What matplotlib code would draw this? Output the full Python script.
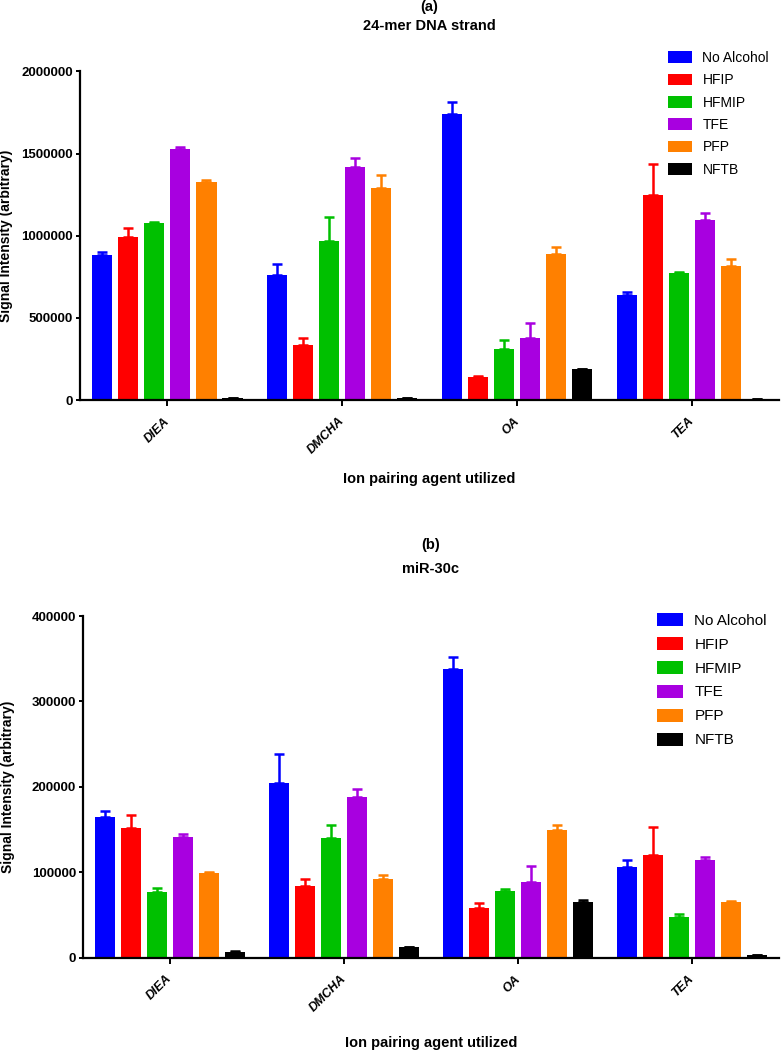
import matplotlib
matplotlib.use('Agg')
import matplotlib.pyplot as plt
import numpy as np

plt.rcParams['font.family'] = ['Liberation Sans', 'DejaVu Sans']

agents = ['DIEA', 'DMCHA', 'OA', 'TEA']
alcohols = ['No Alcohol', 'HFIP', 'HFMIP', 'TFE', 'PFP', 'NFTB']
colors = ['#0000ff', '#ff0000', '#00c000', '#a800e0', '#ff8000', '#000000']

# (a) 24-mer DNA strand: mean and upper error per alcohol, across agents
dna_mean = [
    [881000, 760000, 1743000, 638000],
    [993000, 334000, 142000, 1246000],
    [1078000, 967000, 308000, 774000],
    [1526000, 1418000, 375000, 1094000],
    [1327000, 1293000, 888000, 817000],
    [10000, 10000, 188000, 5000],
]
dna_err = [
    [20000, 65000, 71000, 19000],
    [51000, 41000, 3000, 193000],
    [6000, 147000, 57000, 4000],
    [14000, 57000, 95000, 45000],
    [15000, 75000, 44000, 42000],
    [1000, 1000, 3000, 1000],
]
dna_ticks = [0, 500000, 1000000, 1500000, 2000000]

# (b) miR-30c
mir_mean = [
    [165000, 204000, 338000, 106500],
    [151500, 84000, 58500, 120000],
    [77300, 140500, 77700, 47600],
    [141300, 187800, 89000, 114000],
    [99500, 92500, 150000, 65200],
    [7000, 12000, 65600, 3000],
]
mir_err = [
    [6700, 34500, 14000, 8000],
    [15000, 8000, 5000, 32500],
    [4700, 14500, 3000, 3600],
    [3500, 9700, 18300, 4000],
    [1000, 4000, 5300, 800],
    [500, 1000, 1400, 300],
]
mir_ticks = [0, 100000, 200000, 300000, 400000]

fig = plt.figure(figsize=(7.83, 10.5), dpi=100)
ax1 = fig.add_axes([0.1022, 0.619, 0.893, 0.313])
ax2 = fig.add_axes([0.106, 0.0879, 0.889, 0.3254])

pitch = 0.149
width = 0.115
x = np.arange(len(agents))


def draw_panel(ax, means, errs, yticks, legfs, legpos, handlelen):
    handles = []
    for i in range(len(alcohols)):
        pos = x + (i - 2.5) * pitch
        b = ax.bar(pos, means[i], width, color=colors[i], label=alcohols[i], zorder=2)
        ax.errorbar(pos, means[i], yerr=[np.zeros(len(agents)), errs[i]], fmt='none',
                    ecolor=colors[i], elinewidth=1.8, capsize=3.6, capthick=1.8, zorder=1)
        handles.append(b)
    ax.set_xlim(-0.5, 3.5)
    ax.set_ylim(yticks[0], yticks[-1])
    ax.set_yticks(yticks)
    ax.set_yticklabels([str(t) for t in yticks], fontsize=9.5, fontweight='bold')
    ax.set_xticks(x)
    ax.set_xticklabels(agents, rotation=45, ha='right', va='center', rotation_mode='anchor',
                       fontsize=9, fontweight='bold', style='italic')
    ax.spines['right'].set_visible(False)
    ax.spines['top'].set_visible(False)
    ax.spines['left'].set_linewidth(1.6)
    ax.spines['bottom'].set_linewidth(1.6)
    ax.tick_params(axis='y', length=3, width=1.4, pad=2)
    ax.tick_params(axis='x', length=4, width=1.4, pad=10)
    ax.set_ylabel('Signal Intensity (arbitrary)', fontsize=10, fontweight='bold')
    ax.set_xlabel('Ion pairing agent utilized', fontsize=10.5, fontweight='bold')
    ax.legend(handles=handles, labels=alcohols, loc='upper left', frameon=False,
              bbox_to_anchor=legpos, bbox_transform=fig.transFigure, fontsize=legfs,
              borderpad=0, borderaxespad=0, handlelength=handlelen, handleheight=0.93,
              labelspacing=0.6, handletextpad=0.75)


draw_panel(ax1, dna_mean, dna_err, dna_ticks, 10, (668 / 783, 1 - 51 / 1050), 1.73)
draw_panel(ax2, mir_mean, mir_err, mir_ticks, 11, (657 / 783, 1 - 613 / 1050), 1.7)

ax1.yaxis.set_label_coords(-0.096, 0.5)
ax2.yaxis.set_label_coords(-0.098, 0.5)
ax1.xaxis.set_label_coords(0.5, -0.219)
ax2.xaxis.set_label_coords(0.5, -0.229)

fig.text(0.5485, 1 - 7 / 1050, '(a)', ha='center', va='center', fontsize=10.5, fontweight='bold')
fig.text(0.5485, 1 - 26 / 1050, '24-mer DNA strand', ha='center', va='center', fontsize=10.5, fontweight='bold')
fig.text(0.5504, 1 - 545 / 1050, '(b)', ha='center', va='center', fontsize=10.5, fontweight='bold')
fig.text(0.5504, 1 - 569 / 1050, 'miR-30c', ha='center', va='center', fontsize=10.5, fontweight='bold')

fig.savefig('out.png', dpi=100)
